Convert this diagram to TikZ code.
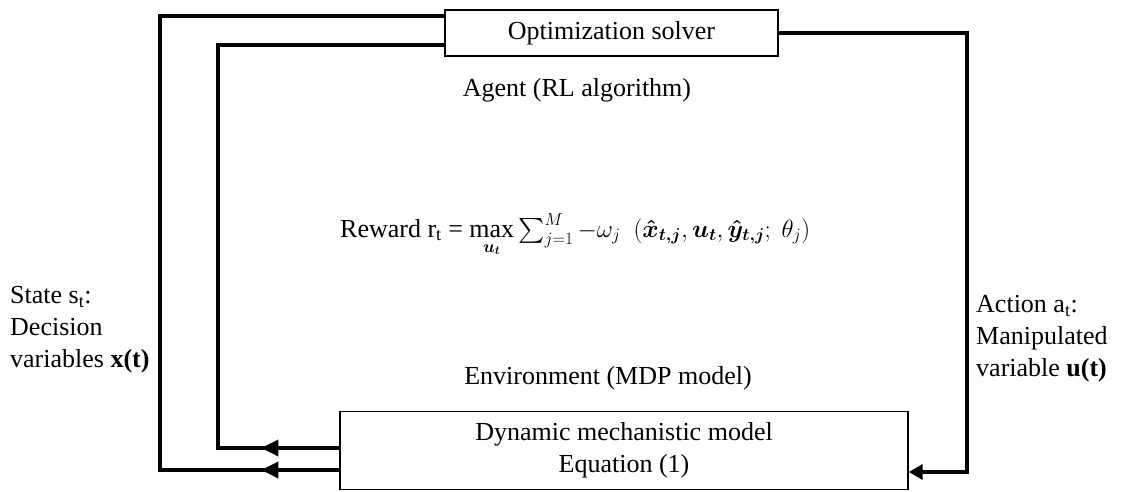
\documentclass[tikz,border=0pt]{standalone}
\usepackage{amsmath}
\usepackage{fontspec}
\setmainfont{Liberation Serif}
\usetikzlibrary{arrows.meta,decorations.markings}

\begin{document}
\begin{tikzpicture}[x=1pt,y=-1pt,
  txt/.style={font=\fontsize{26}{32}\selectfont, inner sep=0pt},
  box/.style={txt, draw, line width=1.4pt, align=center},
  link/.style={line width=3.6pt},
  headleft/.style={postaction={decorate, decoration={markings,
      mark=at position 78pt with {\arrow{Triangle[length=17pt,width=16pt]}}}}}
]
\useasboundingbox (0,0) rectangle (1125,491);

% the two blocks
\node[box, minimum width=333pt, minimum height=46pt] (opt) at (611.5,33) {Optimization solver};
\node[box, minimum width=568pt, minimum height=78pt] (dyn) at (624,450.5)
  {Dynamic mechanistic model\\Equation (1)};

% titles and the reward
\node[txt] (agent) at (577,90) {Agent (RL algorithm)};
\node[txt] (env) at (608,378) {Environment (MDP model)};
\node[txt, anchor=base west] (reward) at (340,237)
  {Reward r\textsubscript{t} = $\max\limits_{\boldsymbol{u_t}}\sum_{j=1}^{M} -\omega_j\ \ (\boldsymbol{\hat{x}_{t,j}}, \boldsymbol{u_t}, \boldsymbol{\hat{y}_{t,j}};\ \theta_j)$};

% side labels
\node[txt, anchor=north west, align=left] (state) at (10,286)
  {State s\textsubscript{t}:\\Decision\\variables \textbf{x(t)}};
\node[txt, anchor=north west, align=left] (action) at (976,295)
  {Action a\textsubscript{t}:\\Manipulated\\variable \textbf{u(t)}};

% routing columns
\coordinate (xo) at (160,0);
\coordinate (xi) at (218,0);
\coordinate (xr) at (967,0);
\coordinate (dA) at ([yshift=-19.5pt]dyn.west);
\coordinate (dB) at ([yshift=2.5pt]dyn.west);
\coordinate (dC) at ([yshift=-21.5pt]dyn.east);
\coordinate (oA) at ([yshift=17pt]opt.west);
\coordinate (oB) at ([yshift=-12pt]opt.west);

% state feedback loops
\draw[link, headleft] (dA) -- (dA -| xo) -- (oA -| xo) -- (oA);
\draw[link, headleft] (dB) -- (dB -| xi) -- (oB -| xi) -- (oB);

% action path
\draw[link, -{Triangle[length=14pt,width=15pt]}]
  (opt.east) -- (opt.east -| xr) -- (dC -| xr) -- (dC);
\end{tikzpicture}
\end{document}
